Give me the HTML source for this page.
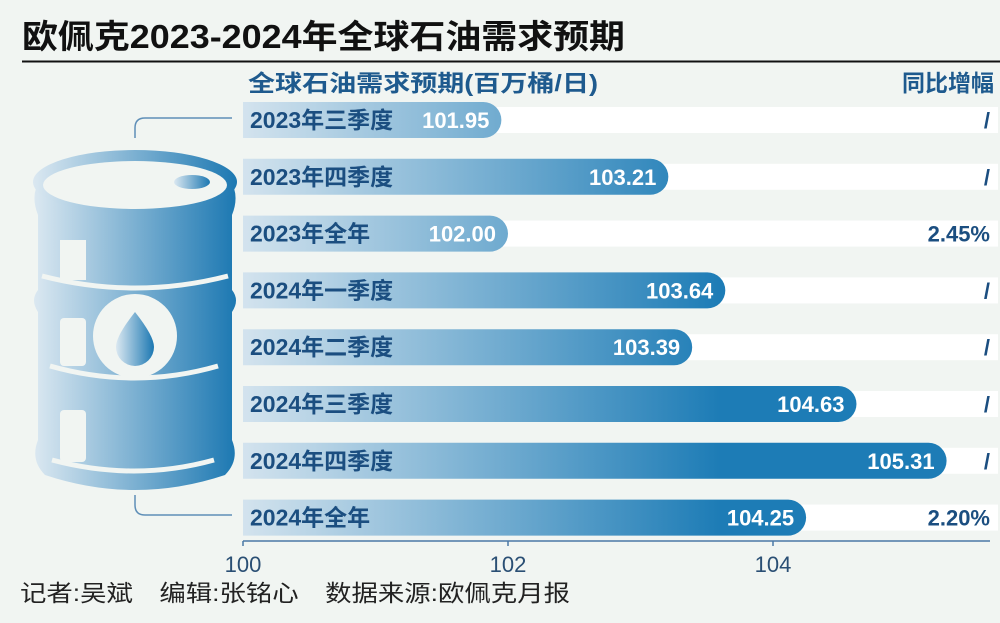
<!DOCTYPE html>
<html><head><meta charset="utf-8"><style>
body{margin:0;width:1000px;height:618px;overflow:hidden;background:#f1f5f2;font-family:"Liberation Sans","Noto Sans CJK SC",sans-serif}
</style></head><body>
<svg id="chart" width="1000" height="618" xmlns="http://www.w3.org/2000/svg" style="font-family:'Liberation Sans','Noto Sans CJK SC',sans-serif">
<defs>
<linearGradient id="barg" gradientUnits="userSpaceOnUse" x1="243" y1="0" x2="720" y2="0">
<stop offset="0" stop-color="#d3e3ee"/><stop offset="1" stop-color="#1d7cb6"/></linearGradient>
<linearGradient id="barrelg" x1="0" y1="0" x2="1" y2="0">
<stop offset="0" stop-color="#dbe8f1"/><stop offset="1" stop-color="#1c78b2"/></linearGradient>
</defs>
<rect width="1000" height="618" fill="#f1f5f2"/>
<text x="22" y="48" font-size="33" font-weight="bold" fill="#111" textLength="603" lengthAdjust="spacingAndGlyphs">欧佩克2023-2024年全球石油需求预期</text>
<line x1="22" y1="61.5" x2="1000" y2="61.5" stroke="#111" stroke-width="2"/>
<text x="248" y="91" font-size="23" font-weight="bold" fill="#1e5a8e" textLength="350" lengthAdjust="spacingAndGlyphs">全球石油需求预期(百万桶/日)</text>
<text x="994" y="91" font-size="23" font-weight="bold" fill="#1e5a8e" text-anchor="end">同比增幅</text>
<g>
<path d="M135 138 v-10 q0,-10 10,-10 H232" fill="none" stroke="#5f8fb8" stroke-width="1.5"/>
<path d="M135 495 v10 q0,10 10,10 H232" fill="none" stroke="#5f8fb8" stroke-width="1.5"/>
<path d="M40 180 Q30 195 38 215 L38 290 Q30 300 38 312 L38 440 Q30 460 45 475 Q135 505 225 475 Q240 460 232 440 L232 312 Q240 300 232 290 L232 215 Q240 195 230 180 Z" fill="url(#barrelg)"/>
<ellipse cx="135" cy="182" rx="102" ry="32" fill="url(#barrelg)"/>
<ellipse cx="135" cy="185" rx="92" ry="24" fill="#f1f5f2"/>
<ellipse cx="192" cy="182" rx="18" ry="7" fill="url(#barrelg)"/>
<path d="M42 276 Q135 300 228 276" fill="none" stroke="#f1f5f2" stroke-width="5"/>
<path d="M50 366 Q135 390 218 366" fill="none" stroke="#f1f5f2" stroke-width="5"/>
<path d="M52 460 Q135 482 214 460" fill="none" stroke="#f1f5f2" stroke-width="5"/>
<rect x="60" y="240" width="26" height="40" fill="#f1f5f2"/>
<rect x="60" y="318" width="26" height="48" rx="4" fill="#f1f5f2"/>
<rect x="60" y="410" width="26" height="52" rx="4" fill="#f1f5f2"/>
<circle cx="135" cy="336" r="42" fill="#f1f5f2"/>
<path d="M135 312 Q116 336 116 347 A19 19 0 0 0 154 347 Q154 336 135 312 Z" fill="url(#barrelg)"/>
</g>
<g id="bars"></g>
<g id="axis"></g>
<text x="20" y="601" font-size="23" fill="#222" textLength="550" lengthAdjust="spacingAndGlyphs">记者:吴斌　编辑:张铭心　数据来源:欧佩克月报</text>
</svg>
<script>
const categories=["2023年三季度","2023年四季度","2023年全年","2024年一季度","2024年二季度","2024年三季度","2024年四季度","2024年全年"];
const demand=[101.95,103.21,102.00,103.64,103.39,104.63,105.31,104.25];
const growth=["/","/","2.45%","/","/","/","/","2.20%"];
const ticks=[100,102,104];
const NS="http://www.w3.org/2000/svg";
const x=v=>243+(v-100)*132.5;
const y=i=>120+i*56.8;
function el(t,a,p,txt){const e=document.createElementNS(NS,t);for(const k in a)e.setAttribute(k,a[k]);if(txt!==undefined)e.textContent=txt;p.appendChild(e);return e;}
const bars=document.getElementById('bars'),axis=document.getElementById('axis');
categories.forEach((c,i)=>{
 const cy=y(i);
 const tr=el('rect',{x:243,y:cy-13,width:755,height:26,fill:'#ffffff'},bars);
 
 
 const w=x(demand[i])-243,h=36;
 const b=el('path',{d:`M243 ${cy-h/2} H${243+w-h/2} A${h/2} ${h/2} 0 0 1 ${243+w-h/2} ${cy+h/2} H243 Z`,fill:'url(#barg)'},bars);
 
 
 const l=el('text',{x:250,y:cy+8,'font-size':23,'font-weight':'bold',fill:'#1b4e80'},bars,c);
 
 
 const v=el('text',{x:x(demand[i])-12,y:cy+8,'font-size':22,'font-weight':'bold',fill:'#ffffff','text-anchor':'end'},bars,demand[i].toFixed(2));
 
 
 const g=el('text',{x:990,y:cy+8,'font-size':22,'font-weight':'bold',fill:'#1b4e80','text-anchor':'end'},bars,growth[i]);
 
 
});
const al=el('line',{x1:243,y1:541,x2:990,y2:541,stroke:'#4a78a6','stroke-width':1.5},axis);


ticks.forEach(t=>{
 const tk=el('line',{x1:x(t),y1:541,x2:x(t),y2:546,stroke:'#4a78a6','stroke-width':1.5},axis);
 
 
 const tl=el('text',{x:x(t),y:572,'font-size':22,fill:'#2a4f74','text-anchor':'middle'},axis,t);
 
 
});
</script>
</body></html>
